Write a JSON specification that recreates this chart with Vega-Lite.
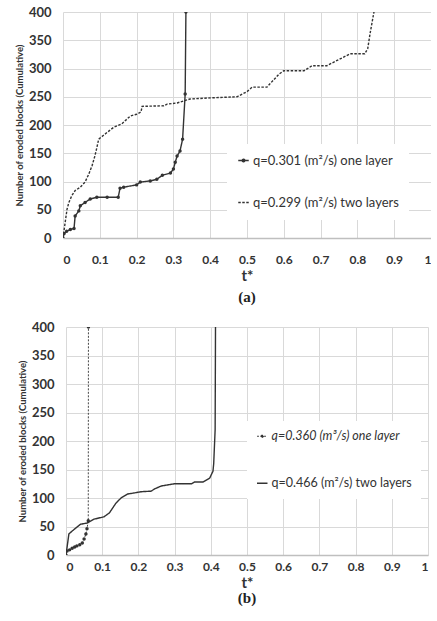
{
  "$schema": "https://vega.github.io/schema/vega-lite/v6.json",
  "background": "white",
  "padding": {"left": 14, "top": 6, "right": 0, "bottom": 0},
  "columns": 1,
  "center": true,
  "spacing": 16,
  "resolve": {"scale": {"strokeDash": "independent", "strokeWidth": "independent"}, "legend": {"strokeDash": "independent"}},
  "config": {
    "view": {"stroke": null},
    "axis": {
      "labelFont": "Lato", "labelFontWeight": "bold", "labelColor": "#333333",
      "titleFont": "Lato", "titleFontWeight": "bold", "titleColor": "#333333",
      "gridColor": "#d9d9d9", "gridWidth": 1, "ticks": false, "labelOverlap": false,
      "domainColor": "#bfbfbf", "domainWidth": 1.5
    },
    "legend": {
      "title": null, "orient": "none", "fillColor": "white",
      "symbolType": "stroke", "symbolSize": 110, "symbolStrokeWidth": 1.4,
      "symbolStrokeColor": "#333333", "labelFont": "Lato", "labelColor": "#333333",
      "labelLimit": 300, "labelOffset": 3
    }
  },
  "datasets": {
    "a": [
      {"s": "q=0.301 (m²/s) one layer", "t": 0, "n": 0},
      {"s": "q=0.301 (m²/s) one layer", "t": 0.003, "n": 8},
      {"s": "q=0.301 (m²/s) one layer", "t": 0.01, "n": 12},
      {"s": "q=0.301 (m²/s) one layer", "t": 0.02, "n": 15},
      {"s": "q=0.301 (m²/s) one layer", "t": 0.03, "n": 17},
      {"s": "q=0.301 (m²/s) one layer", "t": 0.033, "n": 39},
      {"s": "q=0.301 (m²/s) one layer", "t": 0.043, "n": 48},
      {"s": "q=0.301 (m²/s) one layer", "t": 0.047, "n": 57},
      {"s": "q=0.301 (m²/s) one layer", "t": 0.06, "n": 63},
      {"s": "q=0.301 (m²/s) one layer", "t": 0.074, "n": 69},
      {"s": "q=0.301 (m²/s) one layer", "t": 0.092, "n": 72},
      {"s": "q=0.301 (m²/s) one layer", "t": 0.12, "n": 72},
      {"s": "q=0.301 (m²/s) one layer", "t": 0.15, "n": 72},
      {"s": "q=0.301 (m²/s) one layer", "t": 0.155, "n": 88},
      {"s": "q=0.301 (m²/s) one layer", "t": 0.165, "n": 90},
      {"s": "q=0.301 (m²/s) one layer", "t": 0.2, "n": 94},
      {"s": "q=0.301 (m²/s) one layer", "t": 0.21, "n": 99},
      {"s": "q=0.301 (m²/s) one layer", "t": 0.237, "n": 101},
      {"s": "q=0.301 (m²/s) one layer", "t": 0.255, "n": 104},
      {"s": "q=0.301 (m²/s) one layer", "t": 0.27, "n": 111},
      {"s": "q=0.301 (m²/s) one layer", "t": 0.292, "n": 115},
      {"s": "q=0.301 (m²/s) one layer", "t": 0.3, "n": 122},
      {"s": "q=0.301 (m²/s) one layer", "t": 0.305, "n": 134},
      {"s": "q=0.301 (m²/s) one layer", "t": 0.31, "n": 145},
      {"s": "q=0.301 (m²/s) one layer", "t": 0.318, "n": 154},
      {"s": "q=0.301 (m²/s) one layer", "t": 0.325, "n": 175},
      {"s": "q=0.301 (m²/s) one layer", "t": 0.332, "n": 255},
      {"s": "q=0.301 (m²/s) one layer", "t": 0.334, "n": 400},
      {"s": "q=0.299 (m²/s) two layers", "t": 0, "n": 0},
      {"s": "q=0.299 (m²/s) two layers", "t": 0.006, "n": 28},
      {"s": "q=0.299 (m²/s) two layers", "t": 0.011, "n": 51},
      {"s": "q=0.299 (m²/s) two layers", "t": 0.016, "n": 63},
      {"s": "q=0.299 (m²/s) two layers", "t": 0.024, "n": 75},
      {"s": "q=0.299 (m²/s) two layers", "t": 0.033, "n": 84},
      {"s": "q=0.299 (m²/s) two layers", "t": 0.047, "n": 90},
      {"s": "q=0.299 (m²/s) two layers", "t": 0.06, "n": 99},
      {"s": "q=0.299 (m²/s) two layers", "t": 0.07, "n": 113},
      {"s": "q=0.299 (m²/s) two layers", "t": 0.079, "n": 128},
      {"s": "q=0.299 (m²/s) two layers", "t": 0.087, "n": 146},
      {"s": "q=0.299 (m²/s) two layers", "t": 0.092, "n": 160},
      {"s": "q=0.299 (m²/s) two layers", "t": 0.097, "n": 175},
      {"s": "q=0.299 (m²/s) two layers", "t": 0.12, "n": 187},
      {"s": "q=0.299 (m²/s) two layers", "t": 0.138, "n": 196},
      {"s": "q=0.299 (m²/s) two layers", "t": 0.16, "n": 202},
      {"s": "q=0.299 (m²/s) two layers", "t": 0.183, "n": 216},
      {"s": "q=0.299 (m²/s) two layers", "t": 0.2, "n": 219},
      {"s": "q=0.299 (m²/s) two layers", "t": 0.212, "n": 223},
      {"s": "q=0.299 (m²/s) two layers", "t": 0.215, "n": 233},
      {"s": "q=0.299 (m²/s) two layers", "t": 0.274, "n": 234},
      {"s": "q=0.299 (m²/s) two layers", "t": 0.283, "n": 237},
      {"s": "q=0.299 (m²/s) two layers", "t": 0.31, "n": 239},
      {"s": "q=0.299 (m²/s) two layers", "t": 0.33, "n": 243},
      {"s": "q=0.299 (m²/s) two layers", "t": 0.345, "n": 246},
      {"s": "q=0.299 (m²/s) two layers", "t": 0.4, "n": 248},
      {"s": "q=0.299 (m²/s) two layers", "t": 0.473, "n": 250},
      {"s": "q=0.299 (m²/s) two layers", "t": 0.5, "n": 259},
      {"s": "q=0.299 (m²/s) two layers", "t": 0.514, "n": 267},
      {"s": "q=0.299 (m²/s) two layers", "t": 0.554, "n": 267},
      {"s": "q=0.299 (m²/s) two layers", "t": 0.587, "n": 290},
      {"s": "q=0.299 (m²/s) two layers", "t": 0.6, "n": 296},
      {"s": "q=0.299 (m²/s) two layers", "t": 0.655, "n": 296},
      {"s": "q=0.299 (m²/s) two layers", "t": 0.677, "n": 305},
      {"s": "q=0.299 (m²/s) two layers", "t": 0.717, "n": 305},
      {"s": "q=0.299 (m²/s) two layers", "t": 0.753, "n": 317},
      {"s": "q=0.299 (m²/s) two layers", "t": 0.78, "n": 326},
      {"s": "q=0.299 (m²/s) two layers", "t": 0.82, "n": 326},
      {"s": "q=0.299 (m²/s) two layers", "t": 0.828, "n": 335},
      {"s": "q=0.299 (m²/s) two layers", "t": 0.835, "n": 364},
      {"s": "q=0.299 (m²/s) two layers", "t": 0.845, "n": 400}
    ],
    "b": [
      {"s": "q=0.360 (m³/s) one layer", "t": 0, "n": 0},
      {"s": "q=0.360 (m³/s) one layer", "t": 0.003, "n": 7},
      {"s": "q=0.360 (m³/s) one layer", "t": 0.01, "n": 9},
      {"s": "q=0.360 (m³/s) one layer", "t": 0.017, "n": 12},
      {"s": "q=0.360 (m³/s) one layer", "t": 0.024, "n": 14},
      {"s": "q=0.360 (m³/s) one layer", "t": 0.03, "n": 16},
      {"s": "q=0.360 (m³/s) one layer", "t": 0.038, "n": 18},
      {"s": "q=0.360 (m³/s) one layer", "t": 0.045, "n": 21},
      {"s": "q=0.360 (m³/s) one layer", "t": 0.05, "n": 28},
      {"s": "q=0.360 (m³/s) one layer", "t": 0.055, "n": 37},
      {"s": "q=0.360 (m³/s) one layer", "t": 0.058, "n": 46},
      {"s": "q=0.360 (m³/s) one layer", "t": 0.0615, "n": 60},
      {"s": "q=0.360 (m³/s) one layer", "t": 0.062, "n": 400},
      {"s": "q=0.466 (m²/s) two layers", "t": 0, "n": 0},
      {"s": "q=0.466 (m²/s) two layers", "t": 0.008, "n": 37},
      {"s": "q=0.466 (m²/s) two layers", "t": 0.017, "n": 42},
      {"s": "q=0.466 (m²/s) two layers", "t": 0.04, "n": 54},
      {"s": "q=0.466 (m²/s) two layers", "t": 0.058, "n": 56},
      {"s": "q=0.466 (m²/s) two layers", "t": 0.078, "n": 63},
      {"s": "q=0.466 (m²/s) two layers", "t": 0.105, "n": 67},
      {"s": "q=0.466 (m²/s) two layers", "t": 0.12, "n": 74},
      {"s": "q=0.466 (m²/s) two layers", "t": 0.138, "n": 91},
      {"s": "q=0.466 (m²/s) two layers", "t": 0.152, "n": 100},
      {"s": "q=0.466 (m²/s) two layers", "t": 0.17, "n": 107},
      {"s": "q=0.466 (m²/s) two layers", "t": 0.19, "n": 109},
      {"s": "q=0.466 (m²/s) two layers", "t": 0.207, "n": 111},
      {"s": "q=0.466 (m²/s) two layers", "t": 0.235, "n": 112},
      {"s": "q=0.466 (m²/s) two layers", "t": 0.245, "n": 116},
      {"s": "q=0.466 (m²/s) two layers", "t": 0.263, "n": 121},
      {"s": "q=0.466 (m²/s) two layers", "t": 0.3, "n": 125},
      {"s": "q=0.466 (m²/s) two layers", "t": 0.347, "n": 125},
      {"s": "q=0.466 (m²/s) two layers", "t": 0.355, "n": 128},
      {"s": "q=0.466 (m²/s) two layers", "t": 0.378, "n": 128},
      {"s": "q=0.466 (m²/s) two layers", "t": 0.397, "n": 135},
      {"s": "q=0.466 (m²/s) two layers", "t": 0.406, "n": 147},
      {"s": "q=0.466 (m²/s) two layers", "t": 0.408, "n": 160},
      {"s": "q=0.466 (m²/s) two layers", "t": 0.412, "n": 220},
      {"s": "q=0.466 (m²/s) two layers", "t": 0.413, "n": 400}
    ]
  },
  "concat": [
    {
      "width": 368,
      "height": 226,
      "data": {"name": "a"},
      "title": {"text": "(a)", "orient": "bottom", "anchor": "middle", "font": "Liberation Serif", "fontSize": 15, "fontWeight": "bold", "color": "#222222", "offset": 7},
      "encoding": {
        "x": {"field": "t", "type": "quantitative", "scale": {"domain": [0, 1]},
          "axis": {"values": [0, 0.1, 0.2, 0.3, 0.4, 0.5, 0.6, 0.7, 0.8, 0.9, 1], "format": "~g", "title": "t*", "labelFontSize": 12, "labelPadding": 16, "titleFontSize": 15, "titlePadding": 3}},
        "y": {"field": "n", "type": "quantitative", "scale": {"domain": [0, 400]},
          "axis": {"values": [0, 50, 100, 150, 200, 250, 300, 350, 400], "title": "Number of eroded blocks (Cumulative)", "labelFontSize": 13, "labelPadding": 12, "titleFontSize": 9.5, "titlePadding": 4, "domain": false}}
      },
      "layer": [
        {
          "mark": {"type": "line", "strokeWidth": 1.4, "color": "#333333", "clip": true},
          "encoding": {
            "strokeDash": {"field": "s", "type": "nominal",
              "scale": {"domain": ["q=0.301 (m²/s) one layer", "q=0.299 (m²/s) two layers"], "range": [[1, 0], [2.5, 1.5]]},
              "legend": {"legendX": 164, "legendY": 132, "padding": 10, "rowPadding": 28, "labelFontSize": 13,
                "encode": {"symbols": {"update": {
                  "shape": {"signal": "indexof(datum.label, 'one layer') >= 0 ? 'M-1,0H1M-0.25,0A0.25,0.25,0,1,1,0.25,0A0.25,0.25,0,1,1,-0.25,0' : 'stroke'"},
                  "fill": {"signal": "indexof(datum.label, 'one layer') >= 0 ? '#333333' : 'transparent'"},
                  "stroke": {"value": "#333333"},
                  "strokeWidth": {"value": 1.4}}}}}}
          }
        },
        {
          "transform": [{"filter": "indexof(datum.s, 'one layer') >= 0"}],
          "mark": {"type": "point", "filled": true, "size": 12, "color": "#333333", "opacity": 1, "clip": true}
        }
      ]
    },
    {
      "width": 362,
      "height": 228,
      "data": {"name": "b"},
      "title": {"text": "(b)", "orient": "bottom", "anchor": "middle", "font": "Liberation Serif", "fontSize": 15, "fontWeight": "bold", "color": "#222222", "offset": 1},
      "encoding": {
        "x": {"field": "t", "type": "quantitative", "scale": {"domain": [0, 1]},
          "axis": {"values": [0, 0.1, 0.2, 0.3, 0.4, 0.5, 0.6, 0.7, 0.8, 0.9, 1], "format": "~g", "title": "t*", "labelFontSize": 12, "labelPadding": 6, "titleFontSize": 15, "titlePadding": 3}},
        "y": {"field": "n", "type": "quantitative", "scale": {"domain": [0, 400]},
          "axis": {"values": [0, 50, 100, 150, 200, 250, 300, 350, 400], "title": "Number of eroded blocks (Cumulative)", "labelFontSize": 13, "labelPadding": 12, "titleFontSize": 9.5, "titlePadding": 4, "domain": false}}
      },
      "layer": [
        {
          "mark": {"type": "line", "color": "#333333", "clip": true},
          "encoding": {
            "strokeWidth": {"field": "s", "type": "nominal", "scale": {"domain": ["q=0.360 (m³/s) one layer", "q=0.466 (m²/s) two layers"], "range": [0.9, 1.4]}, "legend": null},
            "strokeDash": {"field": "s", "type": "nominal",
              "scale": {"domain": ["q=0.360 (m³/s) one layer", "q=0.466 (m²/s) two layers"], "range": [[2, 1.5], [1, 0]]},
              "legend": {"legendX": 181, "legendY": 94, "padding": 9, "rowPadding": 34, "labelFontSize": 12.5,
                "encode": {
                  "labels": {"update": {"fontStyle": {"signal": "indexof(datum.label, 'one layer') >= 0 ? 'italic' : 'normal'"}}},
                  "symbols": {"update": {
                    "shape": {"signal": "indexof(datum.label, 'one layer') >= 0 ? 'M-1,0H1M-0.25,0A0.25,0.25,0,1,1,0.25,0A0.25,0.25,0,1,1,-0.25,0' : 'stroke'"},
                    "fill": {"signal": "indexof(datum.label, 'one layer') >= 0 ? '#333333' : 'transparent'"},
                    "stroke": {"value": "#333333"},
                    "strokeWidth": {"value": 1.3}}}}}}
          }
        },
        {
          "transform": [{"filter": "indexof(datum.s, 'one layer') >= 0"}],
          "mark": {"type": "point", "filled": true, "size": 12, "color": "#333333", "opacity": 1, "clip": true}
        }
      ]
    }
  ]
}
